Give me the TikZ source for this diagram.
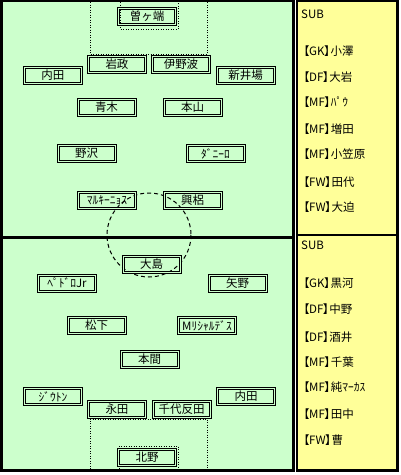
\documentclass[tikz,border=0pt]{standalone}
\usepackage{fontspec}
\setmainfont{Noto Sans CJK JP}
\definecolor{fieldgreen}{HTML}{CCFFCC}
\definecolor{subyellow}{HTML}{FFFF99}
\newcommand{\posbr}[1]{\kern-3pt【\kern-0.5pt#1\kern-0.5pt】\kern-5pt}
\tikzset{
  pl/.style={draw=black, line width=1pt, double=fieldgreen, double distance=1pt,
    minimum width=57pt, minimum height=16pt, inner sep=0pt,
    font=\fontsize{11.5}{12}\selectfont},
  subtxt/.style={anchor=west, inner sep=0pt, font=\fontsize{11.5}{12}\selectfont},
  areadot/.style={line width=1pt, dash pattern=on 1pt off 1.5pt},
  circdash/.style={line width=1pt, dash pattern=on 4pt off 3pt},
  thickline/.style={line width=2.7pt}
}
\begin{document}
\begin{tikzpicture}[x=1pt,y=-1pt]
\useasboundingbox (0,0) rectangle (400,475);
\fill[white] (0,0) rectangle (400,475);
% field
\draw[thickline, fill=fieldgreen] (1.35,1) rectangle (293.35,470.6);
% sub panels
\draw[line width=2.4pt, fill=subyellow] (297.2,0.8) rectangle (397.6,470.6);
\draw[line width=2.4pt] (297.2,235) -- (397.6,235);
% penalty and goal areas
\draw[areadot] (90,2) -- (90,54) -- (207,54) -- (207,2);
\draw[areadot] (120,2) -- (120,29) -- (178,29) -- (178,2);
\draw[areadot] (90,469) -- (90,419) -- (207,419) -- (207,469);
\draw[areadot] (119,469) -- (119,446) -- (178,446) -- (178,469);
% centre circle and halfway line
\draw[circdash] (149,235) circle (42);
\draw[thickline] (1.35,237.3) -- (293.35,237.3);
% top team
\node[pl] (sogahata) at (147,16.5) {曽ヶ端};
\node[pl] (iwamasa) at (117,64) {岩政};
\node[pl] (inoha) at (181,64) {伊野波};
\node[pl] (uchida1) at (53,75) {内田};
\node[pl] (araiba) at (245.5,75) {新井場};
\node[pl] (aoki) at (106.5,107.5) {青木};
\node[pl] (motoyama) at (192.5,107.5) {本山};
\node[pl] (nozawa) at (86.5,153) {野沢};
\node[pl] (danilo) at (215.5,153.5) {ﾀﾞﾆｰﾛ};
\node[pl] (marquinhos) at (107,200.5) {ﾏﾙｷｰﾆｮｽ};
\node[pl] (korogi) at (192.5,200.5) {興梠};
% bottom team
\node[pl] (oshima) at (151.5,264.5) {大島};
\node[pl] (pedro) at (67,283) {ﾍﾟﾄﾞﾛJr};
\node[pl] (yano) at (237.5,283) {矢野};
\node[pl] (matsushita) at (96.5,325) {松下};
\node[pl] (ricardes) at (207,325.5) {Mﾘｼｬﾙﾃﾞｽ};
\node[pl] (honma) at (149.5,359.5) {本間};
\node[pl] (jiuton) at (53,396.5) {ｼﾞｳﾄﾝ};
\node[pl] (uchida2) at (246,396.5) {内田};
\node[pl] (nagata) at (117,409) {永田};
\node[pl] (chiyo) at (181.5,409) {千代反田};
\node[pl] (kitano) at (147,457) {北野};
% substitutes top
\node[subtxt] (subA) at (301,14.5) {SUB};
\node[subtxt] (subA1) at (301,51) {\posbr{GK}小澤};
\node[subtxt] (subA2) at (301,77.5) {\posbr{DF}大岩};
\node[subtxt] (subA3) at (301,102.5) {\posbr{MF}ﾊﾟｳ};
\node[subtxt] (subA4) at (301,129) {\posbr{MF}増田};
\node[subtxt] (subA5) at (301,154.5) {\posbr{MF}小笠原};
\node[subtxt] (subA6) at (301,182.5) {\posbr{FW}田代};
\node[subtxt] (subA7) at (301,207.5) {\posbr{FW}大迫};
% substitutes bottom
\node[subtxt] (subB) at (301,245.5) {SUB};
\node[subtxt] (subB1) at (301,283.5) {\posbr{GK}黒河};
\node[subtxt] (subB2) at (301,309) {\posbr{DF}中野};
\node[subtxt] (subB3) at (301,337) {\posbr{DF}酒井};
\node[subtxt] (subB4) at (301,362) {\posbr{MF}千葉};
\node[subtxt] (subB5) at (301,387.5) {\posbr{MF}純ﾏｰｶｽ};
\node[subtxt] (subB6) at (301,414) {\posbr{MF}田中};
\node[subtxt] (subB7) at (301,440.5) {\posbr{FW}曹};
\end{tikzpicture}
\end{document}
